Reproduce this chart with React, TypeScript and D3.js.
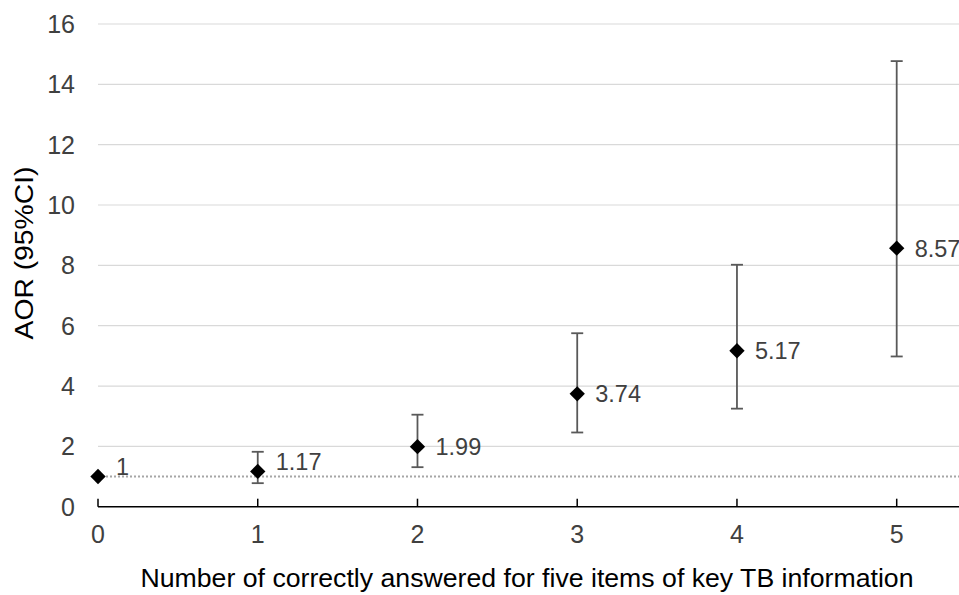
import React from 'react';
import * as d3 from 'd3';

const categories = [0, 1, 2, 3, 4, 5];
const aor = [1, 1.17, 1.99, 3.74, 5.17, 8.57];
const ciLow = [null, 0.78, 1.31, 2.46, 3.25, 4.98];
const ciHigh = [null, 1.82, 3.05, 5.75, 8.02, 14.77];
const yTicks = [0, 2, 4, 6, 8, 10, 12, 14, 16];
const refLine = 1;

const width = 959;
const height = 595;
const font = '"Liberation Sans", Arial, sans-serif';

export default function App() {
  const x = d3.scaleLinear().domain([0, 5.39]).range([98, 959]);
  const y = d3.scaleLinear().domain([0, 16]).range([506.7, 24]);
  const diamond = d3.symbol().type(d3.symbolDiamond2).size(150)();

  return (
    <svg width={width} height={height} style={{ position: 'absolute', left: 0, top: 0, background: '#fff' }}>
      {yTicks.map(t => (
        <g key={t}>
          {t > 0 && <line x1={x(0)} x2={width} y1={y(t)} y2={y(t)} stroke="#d9d9d9" strokeWidth={1.2} />}
          <text x={75} y={y(t)} dy="0.36em" textAnchor="end" fontFamily={font} fontSize={25} fill="#404040">{t}</text>
        </g>
      ))}

      <line x1={x(0)} x2={width} y1={y(refLine)} y2={y(refLine)} stroke="#a6a6a6" strokeWidth={2} strokeDasharray="2,2" />

      <line x1={x(0)} x2={width} y1={y(0)} y2={y(0)} stroke="#000" strokeWidth={1.5} />
      {categories.map(c => (
        <g key={c}>
          <line x1={x(c)} x2={x(c)} y1={y(0)} y2={y(0) - 8} stroke="#000" strokeWidth={1.5} />
          <text x={x(c)} y={534} dy="0.36em" textAnchor="middle" fontFamily={font} fontSize={25} fill="#404040">{c}</text>
        </g>
      ))}

      {categories.map((c, i) => {
        const lo = ciLow[i];
        const hi = ciHigh[i];
        if (lo == null || hi == null) return null;
        return (
          <g key={'e' + c} stroke="#595959" strokeWidth={1.8}>
            <line x1={x(c)} x2={x(c)} y1={y(lo)} y2={y(hi)} />
            <line x1={x(c) - 6} x2={x(c) + 6} y1={y(lo)} y2={y(lo)} />
            <line x1={x(c) - 6} x2={x(c) + 6} y1={y(hi)} y2={y(hi)} />
          </g>
        );
      })}

      {categories.map((c, i) => (
        <g key={'p' + c}>
          <path d={diamond as string} transform={`translate(${x(c)},${y(aor[i])})`} fill="#000" />
          <text x={x(c) + 18} y={y(aor[i]) - (aor[i] < 1.5 ? 10 : 0)} dy="0.36em" fontFamily={font} fontSize={23.5} fill="#404040">{aor[i]}</text>
        </g>
      ))}

      <text transform={`translate(33,253) rotate(-90)`} textAnchor="middle" fontFamily={font} fontSize={25} fill="#000" textLength={173} lengthAdjust="spacingAndGlyphs">AOR (95%CI)</text>
      <text x={527} y={578} dy="0.36em" textAnchor="middle" fontFamily={font} fontSize={25} fill="#000" textLength={773} lengthAdjust="spacingAndGlyphs">Number of correctly answered for five items of key TB information</text>
    </svg>
  );
}
